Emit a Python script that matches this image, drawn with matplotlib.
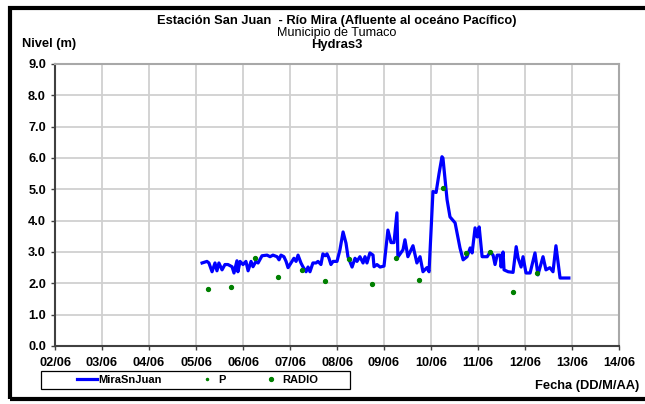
#!/usr/bin/env python3

import matplotlib
matplotlib.use("Agg")
import matplotlib.pyplot as plt
from matplotlib.patches import Rectangle

plt.rcParams['font.family'] = ['Liberation Sans', 'DejaVu Sans']

# level series: hours counted from 05/06 00:00
nivel_horas = [3.1, 5.6, 6.6, 8.2, 9.7, 10.7, 11.7, 13.3, 14.8, 16.3, 18.4, 19.4,
               20.9, 21.4, 22.5, 24.0, 25.5, 26.6, 28.1, 29.1, 30.6, 31.7, 33.7,
               36.3, 37.8, 39.3, 41.4, 42.4, 43.4, 44.9, 46.0, 47.0, 49.0, 50.0,
               51.1, 52.1, 53.6, 54.6, 56.2, 57.2, 58.2, 59.7, 61.3, 62.3, 63.8,
               64.8, 65.9, 66.9, 67.9, 68.9, 70.0, 72.0, 73.5, 75.1, 76.6, 77.6,
               79.7, 81.2, 82.2, 83.7, 85.3, 86.3, 87.3, 88.8, 90.4, 90.9, 92.4,
               94.0, 96.0, 98.0, 99.6, 101.1, 102.6, 103.1, 105.7, 106.7, 108.2,
               110.8, 112.8, 114.4, 115.9, 117.9, 119.0, 121.0, 122.6, 124.1,
               125.6, 126.1, 128.2, 129.7, 132.3, 134.8, 136.4, 138.4, 140.0,
               141.0, 142.5, 143.6, 144.6, 146.1, 148.7, 150.2, 151.7, 152.7,
               153.8, 155.3, 155.8, 156.8, 157.3, 159.4, 161.9, 163.5, 164.5,
               166.0, 167.0, 168.5, 170.6, 173.1, 174.6, 177.2, 178.7, 180.7,
               182.3, 183.8, 185.9, 188.4, 190.4]
nivel_m = [2.65, 2.70, 2.65, 2.37, 2.65, 2.40, 2.65, 2.43, 2.60, 2.60, 2.53, 2.33,
           2.72, 2.37, 2.70, 2.60, 2.70, 2.40, 2.70, 2.53, 2.70, 2.65, 2.88,
           2.90, 2.85, 2.90, 2.85, 2.75, 2.90, 2.85, 2.70, 2.50, 2.70, 2.80,
           2.70, 2.90, 2.65, 2.53, 2.37, 2.52, 2.37, 2.65, 2.65, 2.70, 2.60,
           2.94, 2.88, 2.94, 2.80, 2.60, 2.70, 2.70, 3.07, 3.64, 3.28, 2.85,
           2.52, 2.80, 2.70, 2.85, 2.65, 2.85, 2.65, 2.97, 2.90, 2.53, 2.60,
           2.52, 2.55, 3.70, 3.30, 3.30, 4.25, 2.84, 3.07, 3.39, 2.85,
           3.20, 2.65, 2.85, 2.37, 2.50, 2.37, 4.93, 4.90, 5.50,
           6.04, 6.00, 4.67, 4.12, 3.93, 3.13, 2.75, 2.85, 3.13,
           2.97, 3.77, 3.48, 3.80, 2.85, 2.85, 3.00, 2.90, 2.60,
           2.90, 2.90, 2.52, 3.00, 2.43, 2.37, 2.35, 3.17, 2.80,
           2.52, 2.85, 2.33, 2.33, 2.97, 2.27, 2.85, 2.43, 2.50,
           2.37, 3.20, 2.17, 2.17, 2.17]

# radio readings at 06h and 18h, hours from 05/06 00:00
radio_horas = [6, 18, 30, 42, 54, 66, 78, 90, 102, 114, 126, 138, 150, 162, 174]
radio_m = [1.81, 1.87, 2.82, 2.21, 2.42, 2.06, 2.78, 1.98, 2.82, 2.11, 5.03,
           2.96, 3.01, 1.72, 2.32]

p_horas = []
p_m = []

fechas = ["02/06", "03/06", "04/06", "05/06", "06/06", "07/06", "08/06",
          "09/06", "10/06", "11/06", "12/06", "13/06", "14/06"]

W, H = 645, 404
fig = plt.figure(figsize=(W / 100, H / 100), dpi=100)
ax = fig.add_axes([55 / W, 1 - 346 / H, (619 - 55) / W, (346 - 64) / H])

x_nivel = [3 + h / 24 for h in nivel_horas]
x_radio = [3 + h / 24 for h in radio_horas]
x_p = [3 + h / 24 for h in p_horas]

ax.plot(x_nivel, nivel_m, color='#0000ff', lw=2.3, label='MiraSnJuan', zorder=3)
ax.plot(x_p, p_m, ls='none', marker='.', ms=3, color='#008000', label='P')
ax.plot(x_radio, radio_m, ls='none', marker='o', ms=2.8, color='#008000',
        label='RADIO', zorder=4)

ax.set_xlim(0, 12)
ax.set_ylim(0, 9)
ax.set_xticks(range(13))
ax.set_xticklabels(fechas)
ax.set_yticks(range(10))
ax.set_yticklabels(["%.1f" % v for v in range(10)])
ax.grid(True, color='#d0d0d0', lw=1.3)
ax.set_axisbelow(True)
ax.tick_params(direction='out', length=3, width=1, color='#404040',
               labelsize=9.2)
ax.tick_params(axis='x', pad=5)
ax.tick_params(axis='y', pad=3.5)
for lab in ax.get_xticklabels() + ax.get_yticklabels():
    lab.set_fontweight('bold')
ax.spines['left'].set_color('#404040')
ax.spines['bottom'].set_color('#404040')
ax.spines['top'].set_color('#a8a8a8')
ax.spines['right'].set_color('#a8a8a8')
for s in ax.spines.values():
    s.set_linewidth(1.5)

cx = 0.5 * (55 + 619) / W
fig.text(cx, 1 - 21 / H,
         "Estación San Juan  - Río Mira (Afluente al oceáno Pacífico)",
         ha='center', va='center', fontsize=9.3, fontweight='bold')
fig.text(cx, 1 - 33 / H, "Municipio de Tumaco",
         ha='center', va='center', fontsize=9.1)
fig.text(cx, 1 - 45 / H, "Hydras3",
         ha='center', va='center', fontsize=9.4, fontweight='bold')
fig.text(22 / W, 1 - 44 / H, "Nivel (m)", ha='left', va='center',
         fontsize=9.3, fontweight='bold')
fig.text(639 / W, 1 - 386 / H, "Fecha (DD/M/AA)", ha='right', va='center',
         fontsize=9.3, fontweight='bold')

# legend entries without frame, box drawn separately
leg = fig.legend(loc='center left', bbox_to_anchor=(77 / W, 1 - 380 / H),
                 ncol=3, fontsize=8, frameon=False, handlelength=1.8,
                 columnspacing=3.2, borderpad=0, borderaxespad=0,
                 handletextpad=0.1)
for t in leg.get_texts():
    t.set_fontweight('bold')
fig.patches.append(Rectangle((41 / W, 1 - 389 / H), (350 - 41) / W, 18 / H,
                             transform=fig.transFigure, fill=False,
                             edgecolor='black', lw=0.9))

fig.patches.append(Rectangle((10 / W, 1 - 399 / H), 1.0, (399 - 8) / H,
                             transform=fig.transFigure, fill=False,
                             edgecolor='black', lw=3))

fig.savefig("out.png", dpi=100)
